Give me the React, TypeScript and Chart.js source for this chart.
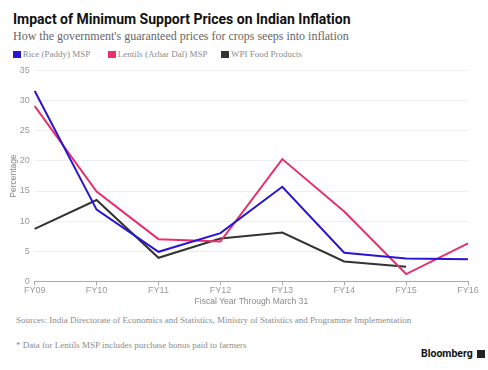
import React, { useEffect, useRef } from "react";
import { Chart, registerables } from "chart.js";

Chart.register(...registerables);

const categories = ["FY09", "FY10", "FY11", "FY12", "FY13", "FY14", "FY15", "FY16"];
const riceMsp = [31.6, 11.9, 4.9, 8.0, 15.7, 4.75, 3.8, 3.65];
const lentilsMsp = [29.1, 14.9, 7.0, 6.6, 20.3, 11.6, 1.2, 6.3];
const wpiFood = [8.7, 13.5, 3.9, 7.1, 8.1, 3.3, 2.4, null];
const seriesNames = ["Rice (Paddy) MSP", "Lentils (Arhar Dal) MSP", "WPI Food Products"];
const seriesColors = ["#2a14d4", "#ea2f6a", "#333333"];
const yMax = 35;
const yStep = 5;

const serif = "'Liberation Serif', 'DejaVu Serif', serif";
const sans = "'Liberation Sans', Arial, sans-serif";

export default function App() {
  const ref = useRef<HTMLCanvasElement>(null);

  useEffect(() => {
    document.body.style.margin = "0";
    const canvas = ref.current;
    if (!canvas) return;
    const chart = new Chart(canvas, {
      type: "line",
      data: {
        labels: categories,
        datasets: [riceMsp, lentilsMsp, wpiFood].map((d, i) => ({
          label: seriesNames[i],
          data: d,
          borderColor: seriesColors[i],
          backgroundColor: seriesColors[i],
          borderWidth: 2,
          pointRadius: 0,
          tension: 0,
          fill: false,
        })),
      },
      options: {
        animation: false,
        responsive: false,
        maintainAspectRatio: false,
        layout: { padding: { left: 0, right: 20, top: 10.6, bottom: 0 } },
        plugins: {
          legend: { display: false },
          tooltip: { enabled: false },
        },
        scales: {
          x: {
            offset: false,
            grid: {
              display: true,
              drawOnChartArea: false,
              drawTicks: true,
              tickLength: 4,
              color: "#aaaaaa",
            },
            border: { display: true, color: "#aaaaaa", width: 1 },
            ticks: {
              color: "#9a9a9a",
              font: { family: sans, size: 9 },
              padding: 0,
              maxRotation: 0,
              autoSkip: false,
            },
            title: {
              display: true,
              text: "Fiscal Year Through March 31",
              color: "#8a8a8a",
              font: { family: sans, size: 8.5 },
              padding: { top: 0, bottom: 3.5 },
            },
            afterFit: (scale: any) => {
              scale.height = 250 - 221.3;
            },
          },
          y: {
            min: 0,
            max: yMax,
            ticks: {
              stepSize: yStep,
              color: "#9a9a9a",
              font: { family: sans, size: 9 },
              padding: 5,
            },
            grid: {
              drawTicks: false,
              color: (ctx: any) => (ctx.tick && ctx.tick.value === 0 ? "rgba(0,0,0,0)" : "#efefef"),
            },
            border: { display: false },
            title: {
              display: true,
              text: "Percentage",
              color: "#8a8a8a",
              font: { family: sans, size: 8.5 },
              padding: { top: 9, bottom: 0 },
            },
            afterFit: (scale: any) => {
              scale.width = 34.7;
            },
          },
        },
      },
    });
    return () => chart.destroy();
  }, []);

  const legendItem = (i: number, left: number) => (
    <div
      key={i}
      style={{
        position: "absolute",
        left,
        top: 48,
        height: 12,
        display: "flex",
        alignItems: "center",
        fontFamily: serif,
        fontSize: 9,
        color: "#8c8c8c",
        whiteSpace: "nowrap",
      }}
    >
      <span
        style={{
          display: "inline-block",
          width: 8,
          height: 7,
          background: seriesColors[i],
          marginRight: 2,
        }}
      />
      {seriesNames[i]}
    </div>
  );

  return (
    <div style={{ position: "relative", width: 488, height: 370, background: "#fff", overflow: "hidden" }}>
      <div
        style={{
          position: "absolute",
          left: 13,
          top: 11,
          fontFamily: "Roboto, sans-serif",
          fontWeight: 700,
          fontSize: 14,
          color: "#111",
          whiteSpace: "nowrap",
        }}
      >
        Impact of Minimum Support Prices on Indian Inflation
      </div>
      <div
        style={{
          position: "absolute",
          left: 13,
          top: 29,
          fontFamily: serif,
          fontSize: 12,
          color: "#666",
          whiteSpace: "nowrap",
        }}
      >
        How the government's guaranteed prices for crops seeps into inflation
      </div>
      {legendItem(0, 12.7)}
      {legendItem(1, 107.7)}
      {legendItem(2, 221)}
      <canvas
        ref={ref}
        width={488}
        height={250}
        style={{ position: "absolute", left: 0, top: 60, width: 488, height: 250 }}
      />
      <div
        style={{
          position: "absolute",
          left: 16,
          top: 315,
          fontFamily: serif,
          fontSize: 9,
          color: "#8c8c8c",
          whiteSpace: "nowrap",
        }}
      >
        Sources: India Directorate of Economics and Statistics, Ministry of Statistics and Programme Implementation
      </div>
      <div
        style={{
          position: "absolute",
          left: 16,
          top: 340,
          fontFamily: serif,
          fontSize: 9,
          color: "#8c8c8c",
          whiteSpace: "nowrap",
        }}
      >
        * Data for Lentils MSP includes purchase bonus paid to farmers
      </div>
      <div
        style={{
          position: "absolute",
          left: 421,
          top: 347,
          display: "flex",
          alignItems: "center",
          fontFamily: "Roboto, sans-serif",
          fontWeight: 700,
          fontSize: 10.5,
          color: "#111",
          whiteSpace: "nowrap",
        }}
      >
        Bloomberg
        <span
          style={{
            display: "inline-block",
            width: 8,
            height: 8,
            background: "#222",
            marginLeft: 4,
          }}
        />
      </div>
    </div>
  );
}
